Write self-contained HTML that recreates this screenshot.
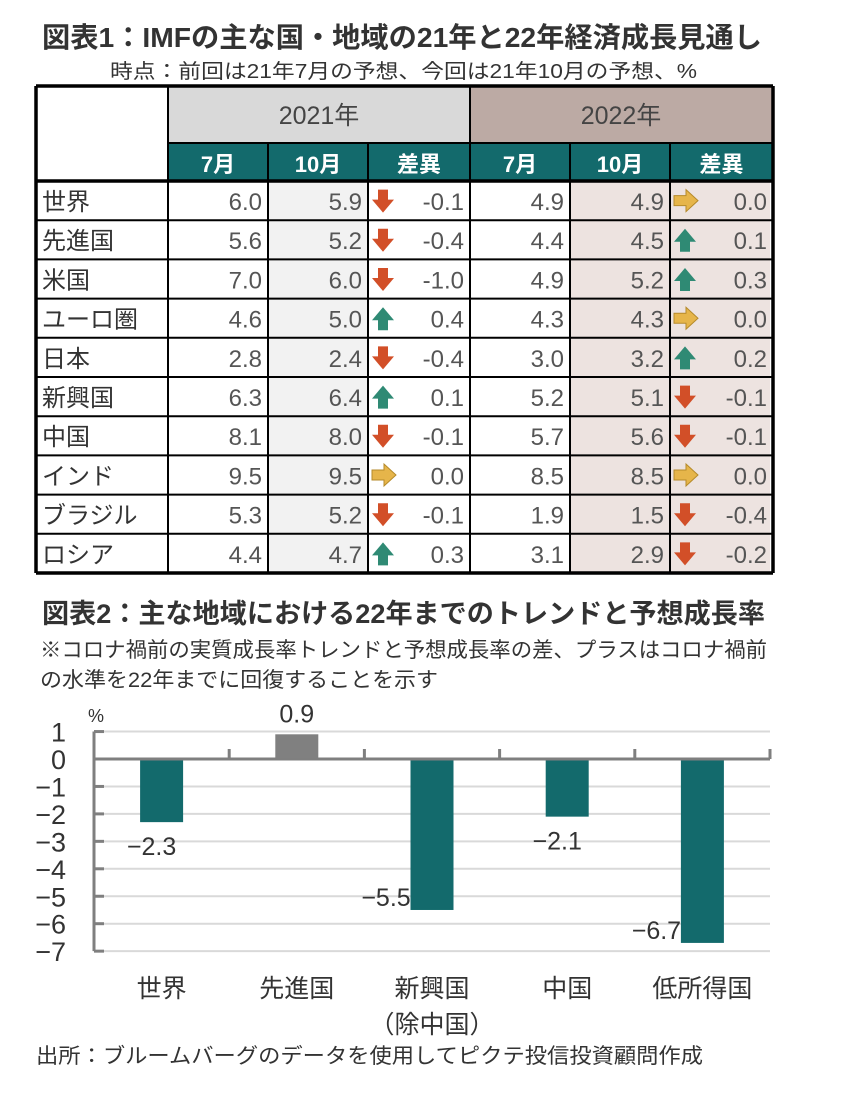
<!DOCTYPE html>
<html><head><meta charset="utf-8"><style>
body{margin:0;background:#fff;}
svg{display:block;font-family:"Liberation Sans","Noto Sans CJK JP",sans-serif;}
</style></head><body>
<svg width="853" height="1096" viewBox="0 0 853 1096" id="root">
<text x="42" y="47" font-size="28" font-weight="bold" fill="#333" textLength="720" lengthAdjust="spacingAndGlyphs">図表1：IMFの主な国・地域の21年と22年経済成長見通し</text>
<text x="110" y="78" font-size="20" fill="#333" textLength="587" lengthAdjust="spacingAndGlyphs">時点：前回は21年7月の予想、今回は21年10月の予想、%</text>
<g id="table"></g>
<text x="42" y="623" font-size="27" font-weight="bold" fill="#333" textLength="723" lengthAdjust="spacingAndGlyphs">図表2：主な地域における22年までのトレンドと予想成長率</text>
<text x="40" y="657" font-size="21" fill="#333" textLength="727" lengthAdjust="spacingAndGlyphs">※コロナ禍前の実質成長率トレンドと予想成長率の差、プラスはコロナ禍前</text>
<text x="40" y="687" font-size="21" fill="#333" textLength="398" lengthAdjust="spacingAndGlyphs">の水準を22年までに回復することを示す</text>
<g id="chart"></g>
<text x="36" y="1063" font-size="21" fill="#333" textLength="667" lengthAdjust="spacingAndGlyphs">出所：ブルームバーグのデータを使用してピクテ投信投資顧問作成</text>
</svg>
<script>
const NS="http://www.w3.org/2000/svg";
function mk(p,t,a,txt){const e=document.createElementNS(NS,t);for(const k in a)e.setAttribute(k,a[k]);if(txt!=null)e.textContent=txt;p.appendChild(e);return e;}
// ---- table data ----
const regions=["世界","先進国","米国","ユーロ圏","日本","新興国","中国","インド","ブラジル","ロシア"];
const jul21=["6.0","5.6","7.0","4.6","2.8","6.3","8.1","9.5","5.3","4.4"];
const oct21=["5.9","5.2","6.0","5.0","2.4","6.4","8.0","9.5","5.2","4.7"];
const diff21=["-0.1","-0.4","-1.0","0.4","-0.4","0.1","-0.1","0.0","-0.1","0.3"];
const jul22=["4.9","4.4","4.9","4.3","3.0","5.2","5.7","8.5","1.9","3.1"];
const oct22=["4.9","4.5","5.2","4.3","3.2","5.1","5.6","8.5","1.5","2.9"];
const diff22=["0.0","0.1","0.3","0.0","0.2","-0.1","-0.1","0.0","-0.4","-0.2"];
const T=document.getElementById('table');
const cx=[36,168,268,368,470,570,670,773];
const top0=86,h1=143,h2=181,rh=39.2;
mk(T,'rect',{x:168,y:top0,width:302,height:h1-top0,fill:'#d9d9d9'});
mk(T,'rect',{x:470,y:top0,width:303,height:h1-top0,fill:'#bcaaa4'});
mk(T,'rect',{x:168,y:h1,width:605,height:h2-h1,fill:'#136a6c'});
mk(T,'rect',{x:268,y:h2,width:100,height:rh*10,fill:'#f2f2f2'});
mk(T,'rect',{x:570,y:h2,width:200,height:rh*10,fill:'#ede3e0'});
mk(T,'text',{x:319,y:124,'text-anchor':'middle','font-size':25,fill:'#444'},'2021年');
mk(T,'text',{x:621,y:124,'text-anchor':'middle','font-size':25,fill:'#444'},'2022年');
const hdr=["7月","10月","差異","7月","10月","差異"];
hdr.forEach((h,i)=>{const t=mk(T,'text',{x:(cx[i+1]+cx[i+2])/2,y:172,'text-anchor':'middle','font-size':22,'font-weight':'bold',fill:'#fff'},h);

});
function arrow(g,x,y,d){
 const v=parseFloat(d);
 if(v<0){mk(g,'path',{d:`M${x+6} ${y-11}h10v10h6l-11 13l-11-13h6z`,fill:'#d24f28'});}
 else if(v>0){mk(g,'path',{d:`M${x+6} ${y+12}h10v-10h6l-11-13l-11 13h6z`,fill:'#2f8a74'});}
 else{mk(g,'path',{d:`M${x} ${y-5}h12v-6l12 11l-12 11v-6h-12z`,fill:'#e6b54a',stroke:'#b58a2a','stroke-width':1});}
}
regions.forEach((r,i)=>{
 const y=h2+rh*i, ty=y+29;
 const g=mk(T,'g',{});
 
 
 mk(g,'text',{x:42,y:ty,'font-size':24,fill:'#333'},r);
 [[jul21,1],[oct21,2],[jul22,4],[oct22,5]].forEach(([a,c])=>mk(g,'text',{x:cx[c+1]-6,y:ty,'text-anchor':'end','font-size':24,fill:'#555'},a[i]));
 [[diff21,3],[diff22,6]].forEach(([a,c])=>{arrow(g,cx[c]+4,y+rh/2,a[i]);mk(g,'text',{x:cx[c+1]-6,y:ty,'text-anchor':'end','font-size':24,fill:'#555'},a[i]);});
});
for(let i=0;i<=10;i++){const y=h2+rh*i;mk(T,'line',{x1:36,x2:773,y1:y,y2:y,stroke:'#000','stroke-width':(i==0||i==10)?3.5:2});}
mk(T,'line',{x1:36,x2:773,y1:top0,y2:top0,stroke:'#000','stroke-width':3.5});
mk(T,'line',{x1:168,x2:773,y1:h1,y2:h1,stroke:'#000','stroke-width':2});
cx.forEach((x,i)=>{const w=(i==0||i==7)?3.5:2;const y1=(i==2||i==3||i==5||i==6)?h1:top0;mk(T,'line',{x1:x,x2:x,y1:y1,y2:h2+rh*10,stroke:'#000','stroke-width':w});});
// ---- chart data ----
const cats=["世界","先進国","新興国","中国","低所得国"];
const vals=[-2.3,0.9,-5.5,-2.1,-6.7];
const valLabels=["−2.3","0.9","−5.5","−2.1","−6.7"];
const yTicks=[1,0,-1,-2,-3,-4,-5,-6,-7];
const yTickLabels=["1","0","−1","−2","−3","−4","−5","−6","−7"];
const C=document.getElementById('chart');
const X0=94,X1=770,Y0=759,U=27.45;
const yS=v=>Y0-v*U;
const bw=(X1-X0)/cats.length;
const xC=i=>X0+bw*(i+0.5);
yTicks.forEach((t,i)=>{
 if(t!==0)mk(C,'line',{x1:X0,x2:X1,y1:yS(t),y2:yS(t),stroke:'#d9d9d9','stroke-width':2});
 mk(C,'line',{x1:X0,x2:X0+10,y1:yS(t),y2:yS(t),stroke:'#7f7f7f','stroke-width':3});
 const l=mk(C,'text',{x:66,y:yS(t)+10,'text-anchor':'end','font-size':27,fill:'#333'},yTickLabels[i]);
 
 
});
mk(C,'text',{x:88,y:722,'font-size':18,fill:'#333'},'%');
vals.forEach((v,i)=>{
 const x=xC(i)-21.5;
 const b=mk(C,'rect',{x:x,y:Math.min(yS(v),Y0),width:43,height:Math.abs(yS(v)-Y0),fill:v>0?'#808080':'#136a6c'});
 
 
 const lx=v>0?xC(i):(i%2==0&&v<-5?xC(i)-46:xC(i)-10);
 const ly=v>0?yS(v)-12:(v<-5?yS(v)-4:yS(v)+33);
 const t=mk(C,'text',{x:lx,y:ly,'text-anchor':'middle','font-size':25,fill:'#333'},valLabels[i]);
 
 
 const c=mk(C,'text',{x:xC(i),y:997,'text-anchor':'middle','font-size':25,fill:'#333'},cats[i]);
 
 
});
mk(C,'text',{x:xC(2),y:1033,'text-anchor':'middle','font-size':25,fill:'#333'},'（除中国）');
mk(C,'line',{x1:X0,x2:X0,y1:yS(1),y2:yS(-7),stroke:'#7f7f7f','stroke-width':3});
mk(C,'line',{x1:X0,x2:X1,y1:Y0,y2:Y0,stroke:'#7f7f7f','stroke-width':3});
for(let i=1;i<=cats.length;i++){const x=X0+bw*i;mk(C,'line',{x1:x,x2:x,y1:Y0-10,y2:Y0,stroke:'#7f7f7f','stroke-width':3});}
</script>
</body></html>
